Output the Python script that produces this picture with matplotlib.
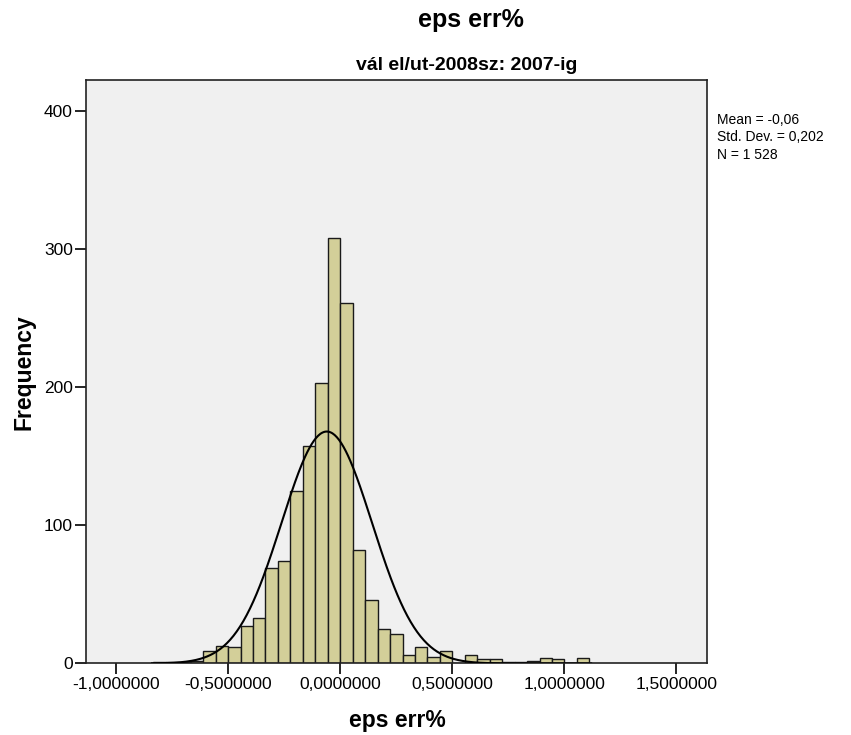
import matplotlib
matplotlib.use('Agg')
import matplotlib.pyplot as plt
import numpy as np
from matplotlib.ticker import FuncFormatter

plt.rcParams['font.family'] = ['Liberation Sans', 'DejaVu Sans']

# histogram bins: width and index of the first bin (edges at k*width)
bin_width = 0.0556
first_bin = -15
counts = [1, 1, 1, 2, 9, 13, 12, 27, 33, 69, 74, 125, 157, 203, 308,
          261, 82, 46, 25, 21, 6, 12, 5, 9, 0, 6, 3, 3, 1, 1, 2, 4, 3, 0, 4]

mean = -0.06
std = 0.202
n = 1528

x_ticks = [-1.0, -0.5, 0.0, 0.5, 1.0, 1.5]
y_ticks = [0, 100, 200, 300, 400]

fig = plt.figure(figsize=(8.51, 7.35), dpi=100)
ax = fig.add_axes([0.101, 0.0973, 0.730, 0.7937])
ax.set_facecolor('#F0F0F0')

lefts = (np.arange(len(counts)) + first_bin) * bin_width
ax.bar(lefts, counts, width=bin_width, align='edge', color='#D3CF99',
       edgecolor='#1a1a1a', linewidth=1.0, zorder=2)

# normal curve
xs = np.linspace(-0.84, 1.12, 400)
ys = n * bin_width / (std * np.sqrt(2 * np.pi)) * np.exp(-0.5 * ((xs - mean) / std) ** 2)
ax.plot(xs, ys, color='black', linewidth=1.5, zorder=3)

ax.set_xlim(-1.135, 1.638)
ax.set_ylim(0, 422)
ax.set_xticks(x_ticks)
ax.set_yticks(y_ticks)
ax.xaxis.set_major_formatter(FuncFormatter(lambda v, p: ('%.7f' % v).replace('.', ',')))
ax.tick_params(axis='both', direction='out', length=8, width=1.2, labelsize=12.5,
               colors='black', pad=1.5)
for s in ax.spines.values():
    s.set_linewidth(1.2)
    s.set_color('#222222')

fig.text(397 / 851, 1 - 720 / 735, 'eps err%', ha='center', va='center',
         fontsize=16.5, fontweight='bold')
fig.text(24 / 851, 1 - 372 / 735, 'Frequency', ha='center', va='center',
         rotation=90, fontsize=16.5, fontweight='bold')

fig.text(471 / 851, 1 - 20 / 735, 'eps err%', ha='center', va='center',
         fontsize=18, fontweight='bold')
fig.text(467 / 851, 1 - 65 / 735, 'vál el/ut-2008sz: 2007-ig', ha='center', va='center',
         fontsize=14, fontweight='bold')

fig.text(717 / 851, 1 - 113 / 735, 'Mean = -0,06\nStd. Dev. = 0,202\nN = 1 528',
         ha='left', va='top', fontsize=10, linespacing=1.3)

fig.savefig('out.png', dpi=100)
